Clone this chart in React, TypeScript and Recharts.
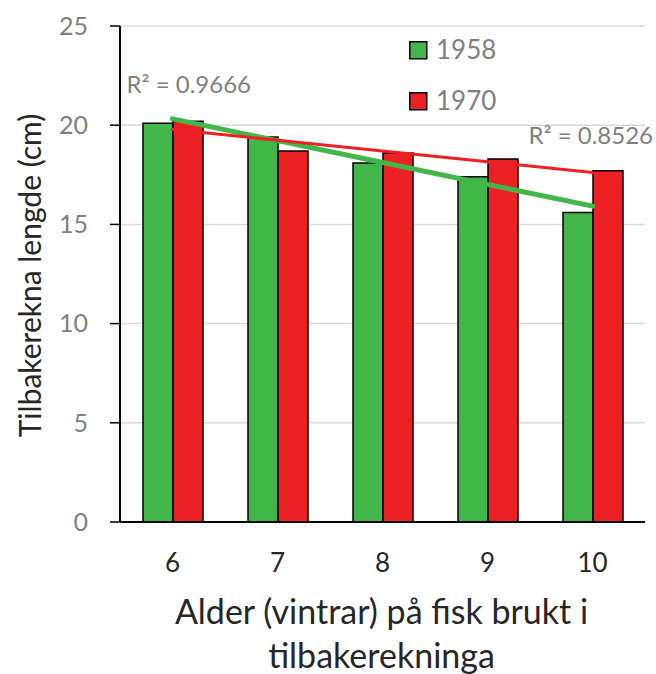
import React from 'react';
import {
  ComposedChart,
  Bar,
  Line,
  XAxis,
  YAxis,
  CartesianGrid,
  Legend,
  Label,
  LabelList,
} from 'recharts';

const categories = ['6', '7', '8', '9', '10'];
const len1958 = [20.1, 19.4, 18.1, 17.4, 15.6];
const len1970 = [20.2, 18.7, 18.6, 18.3, 17.7];
const trend1958 = [20.32, 19.22, 18.12, 17.02, 15.92];
const trend1970 = [19.78, 19.24, 18.7, 18.16, 17.62];
const r2Labels = ['R² = 0.9666', 'R² = 0.8526'];
const yTicks = [0, 5, 10, 15, 20, 25];
const seriesNames = ['1958', '1970'];
const xTitleLines = ['Alder (vintrar) på fisk brukt i', 'tilbakerekninga'];
const yTitle = 'Tilbakerekna lengde (cm)';

const data = categories.map((c, i) => ({
  age: c,
  s1958: len1958[i],
  s1970: len1970[i],
  t1958: trend1958[i],
  t1970: trend1970[i],
}));

const FONT = 'Lato, "Open Sans", sans-serif';
const GREEN = '#41B649';
const RED = '#ED2024';
const GRAY = '#7F7F7F';
const DARK = '#262626';

const renderXTitle = (props: any) => {
  const vb = props.viewBox || {};
  const cx = vb.x + vb.width / 2 - 1;
  return (
    <text x={cx} y={vb.y + 101.5} textAnchor="middle" fill={DARK} fontSize={34} fontFamily={FONT}>
      <tspan x={cx} y={vb.y + 101.5}>{xTitleLines[0]}</tspan>
      <tspan x={cx} y={vb.y + 145.5}>{xTitleLines[1]}</tspan>
    </text>
  );
};

const renderYTitle = (props: any) => {
  const vb = props.viewBox || {};
  const cy = vb.y + vb.height / 2 + 1.5;
  const x = 41;
  return (
    <text
      x={x}
      y={cy}
      transform={`rotate(-90, ${x}, ${cy})`}
      textAnchor="middle"
      fill={DARK}
      fontSize={30}
      fontFamily={FONT}
    >
      {yTitle}
    </text>
  );
};

const renderR2First = (props: any) => {
  if (props.index !== 0) return null;
  return (
    <text x={props.x - 46} y={props.y - 26} fill={GRAY} fontSize={24} fontFamily={FONT}>
      {r2Labels[0]}
    </text>
  );
};

const renderR2Second = (props: any) => {
  if (props.index !== categories.length - 1) return null;
  return (
    <text x={props.x - 64} y={props.y - 28.5} fill={GRAY} fontSize={24} fontFamily={FONT}>
      {r2Labels[1]}
    </text>
  );
};

const renderLegend = (props: any) => {
  const payload = (props.payload || []).filter((p: any) => p.type !== 'none');
  return (
    <svg width={110} height={75} style={{ display: 'block', overflow: 'visible' }}>
      {payload.map((p: any, i: number) => (
        <g key={i}>
          <rect x={0.75} y={i * 51 + 0.75} width={17} height={17} fill={p.color} stroke="#000" strokeWidth={1.5} />
          <text x={27} y={i * 51 + 18} fill={GRAY} fontSize={26} fontFamily={FONT}>
            {p.value}
          </text>
        </g>
      ))}
    </svg>
  );
};

export default function App() {
  return (
    <div style={{ position: 'absolute', left: 0, top: 0, width: 656, height: 674, background: '#fff' }}>
      <ComposedChart
        width={656}
        height={674}
        data={data}
        margin={{ top: 26, right: 11, left: 0, bottom: 0 }}
        barGap={0}
      >
        <CartesianGrid vertical={false} stroke="#D9D9D9" strokeWidth={1.5} />
        <XAxis
          dataKey="age"
          height={152}
          axisLine={{ stroke: '#000', strokeWidth: 2 }}
          tickLine={false}
          tickSize={0}
          tickMargin={32}
          tick={{ fill: DARK, fontSize: 26, fontFamily: FONT }}
          interval={0}
        >
          <Label content={renderXTitle} />
        </XAxis>
        <YAxis
          width={120}
          domain={[0, 25]}
          ticks={yTicks}
          interval={0}
          axisLine={{ stroke: '#000', strokeWidth: 2 }}
          tickLine={{ stroke: '#000', strokeWidth: 1.5 }}
          tickSize={10}
          tickMargin={22}
          tick={{ fill: GRAY, fontSize: 25, fontFamily: FONT }}
        >
          <Label content={renderYTitle} />
        </YAxis>
        <Legend
          layout="vertical"
          align="center"
          verticalAlign="middle"
          content={renderLegend}
          wrapperStyle={{ left: 409, top: 41, width: 110, height: 75 }}
        />
        <Bar dataKey="s1958" name={seriesNames[0]} fill={GREEN} stroke="#000" strokeWidth={1.5} barSize={30} isAnimationActive={false} />
        <Bar dataKey="s1970" name={seriesNames[1]} fill={RED} stroke="#000" strokeWidth={1.5} barSize={30} isAnimationActive={false} />
        <Line
          dataKey="t1958"
          stroke={GREEN}
          strokeWidth={5}
          dot={false}
          activeDot={false}
          legendType="none"
          strokeLinecap="round"
          isAnimationActive={false}
        >
          <LabelList dataKey="t1958" content={renderR2First} />
        </Line>
        <Line
          dataKey="t1970"
          stroke={RED}
          strokeWidth={3}
          dot={false}
          activeDot={false}
          legendType="none"
          strokeLinecap="round"
          isAnimationActive={false}
        >
          <LabelList dataKey="t1970" content={renderR2Second} />
        </Line>
      </ComposedChart>
    </div>
  );
}
